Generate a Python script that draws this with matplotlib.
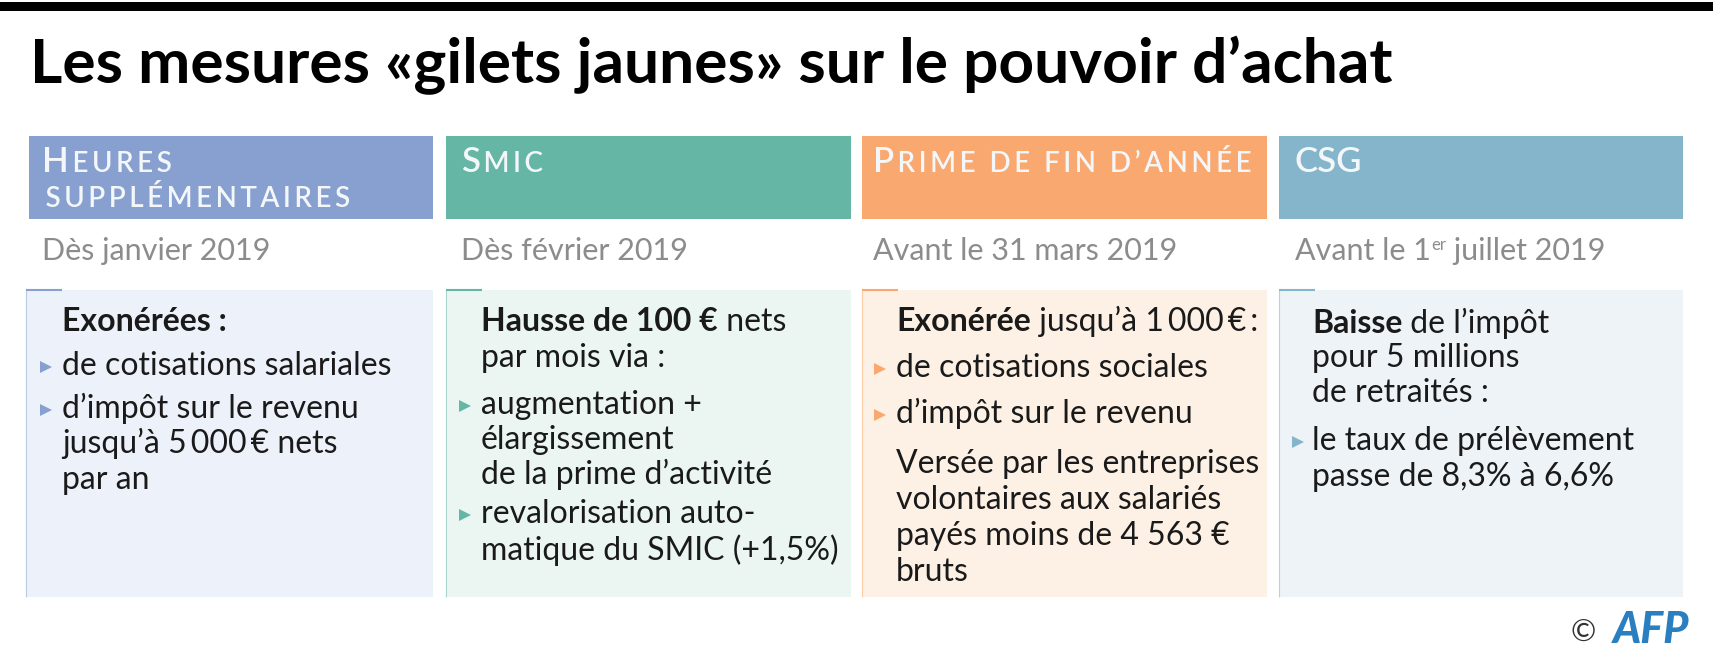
# Les mesures "gilets jaunes" sur le pouvoir d'achat - AFP text panel
import matplotlib.pyplot as plt
from matplotlib.patches import Rectangle

plt.rcParams['font.family'] = ['Lato', 'DejaVu Sans']

TRACK = '\u2009'  # thin space, used to track out the small caps

title = "Les mesures «gilets jaunes» sur le pouvoir d’achat"

# first letter big, the rest small caps
headers = [
    [("H", "EURES"), ("", "SUPPLÉMENTAIRES")],
    [("S", "MIC")],
    [("P", "RIME DE FIN D’ANNÉE")],
    [("CSG", "")],
]
dates = ["Dès janvier 2019", "Dès février 2019", "Avant le 31 mars 2019", "Avant le 1"]
date_sup = "er"
date_after_sup = " juillet 2019"

header_colors = ['#87a0cf', '#65b6a5', '#f9a86f', '#85b5cb']
body_colors = ['#edf1f9', '#ebf6f3', '#fdf1e5', '#edf3f7']

# each line: bold part, regular part, bullet yes/no
col1_bold = ["Exonérées :", "", "", "", ""]
col1_text = ["", "de cotisations salariales", "d’impôt sur le revenu", "jusqu’à 5\u2009000\u2009€ nets", "par an"]
col1_bullet = [0, 1, 1, 0, 0]
col1_y = [331, 375, 418, 453, 489]

col2_bold = ["Hausse de 100 €", "", "", "", "", "", ""]
col2_text = [" nets", "par mois via :", "augmentation +", "élargissement", "de la prime d’activité",
             "revalorisation auto-", "matique du SMIC (+1,5%)"]
col2_bullet = [0, 0, 1, 0, 0, 1, 0]
col2_y = [331, 367, 414, 449, 484, 523, 560]

col3_bold = ["Exonérée", "", "", "", "", "", ""]
col3_text = [" jusqu’à 1\u2009000\u2009€\u2009:", "de cotisations sociales", "d’impôt sur le revenu",
             "Versée par les entreprises", "volontaires aux salariés", "payés moins de 4 563 €", "bruts"]
col3_bullet = [0, 1, 1, 0, 0, 0, 0]
col3_y = [331, 377, 423, 473, 509, 545, 581]

col4_bold = ["Baisse", "", "", "", ""]
col4_text = [" de l’impôt", "pour 5 millions", "de retraités :", "le taux de prélèvement", "passe de 8,3% à 6,6%"]
col4_bullet = [0, 0, 0, 1, 0]
col4_y = [333, 367, 402, 450, 486]

columns = [
    (col1_bold, col1_text, col1_bullet, col1_y),
    (col2_bold, col2_text, col2_bullet, col2_y),
    (col3_bold, col3_text, col3_bullet, col3_y),
    (col4_bold, col4_text, col4_bullet, col4_y),
]

# layout, in pixels
col_left = [29, 446, 862, 1279]
col_right = [433, 851, 1267, 1683]
head_x = [42, 461, 873, 1295]
text_x = [62, 481, 896, 1312]
bullet_x = [46, 465, 880, 1298]
BODY_SIZE = 23
DATE_SIZE = 22

fig = plt.figure(figsize=(17.13, 6.69), dpi=100)
ax = fig.add_axes([0, 0, 1, 1])
ax.set_xlim(0, 1713)
ax.set_ylim(669, 0)
ax.axis('off')
renderer = fig.canvas.get_renderer()


def put_runs(x, y, runs):
    # draw text runs one after the other on the same baseline
    for txt, kw in runs:
        if not txt:
            continue
        t = ax.text(x, y, txt, va='baseline', ha='left', **kw)
        x = t.get_window_extent(renderer).x1
    return x


ax.add_patch(Rectangle((0, 2), 1713, 9, color='black', lw=0))
ax.text(30, 83, title, fontsize=44.8, fontweight='bold', color='black', va='baseline')

for i in range(4):
    left, right = col_left[i], col_right[i]
    c = header_colors[i]
    ax.add_patch(Rectangle((left, 136), right - left, 83, color=c, lw=0))

    # small caps header
    head_kw = dict(color='#f4f7fa', fontweight='semibold')
    for j, (big, small) in enumerate(headers[i]):
        y = 172 + j * 35
        if big == "CSG":
            put_runs(head_x[i], y, [(big, dict(fontsize=25, **head_kw))])
        else:
            small = TRACK.join(small)
            put_runs(head_x[i], y, [(big, dict(fontsize=25, **head_kw)),
                                    (TRACK + small, dict(fontsize=20, **head_kw))])

    # date line
    grey = dict(fontsize=DATE_SIZE, color='#8c8c8c')
    if i == 3:
        x = put_runs(head_x[i], 260, [(dates[i], grey)])
        x = put_runs(x, 250, [(date_sup, dict(fontsize=12, color='#8c8c8c'))])
        put_runs(x, 260, [(date_after_sup, grey)])
    else:
        put_runs(head_x[i], 260, [(dates[i], grey)])

    # body box with the thin coloured corner
    body_left = left - 3 if i == 0 else left
    ax.add_patch(Rectangle((body_left, 290), right - body_left, 307, color=body_colors[i], lw=0))
    ax.plot([body_left, body_left], [290, 597], color=c, lw=0.8, alpha=0.5, solid_capstyle='butt')
    ax.plot([body_left, body_left + 36], [290, 290], color=c, lw=1.5, solid_capstyle='butt')

    bolds, texts, bullets, ys = columns[i]
    for b, t, bul, y in zip(bolds, texts, bullets, ys):
        put_runs(text_x[i], y, [(b, dict(fontsize=BODY_SIZE, fontweight='bold', color='#1a1a1a')),
                                (t, dict(fontsize=BODY_SIZE, color='#1a1a1a'))])
        if bul:
            ax.plot([bullet_x[i]], [y - 8], marker='>', ms=9, color=c, mew=0)

# credit
ax.text(1583, 642, "©", fontsize=22, color='#333333', va='baseline', ha='center')
ax.text(1689, 643, "AFP", fontsize=31, color='#2a7fc0', va='baseline', ha='right',
        fontweight='black', fontstyle='italic')

fig.savefig('out.png', dpi=100)
